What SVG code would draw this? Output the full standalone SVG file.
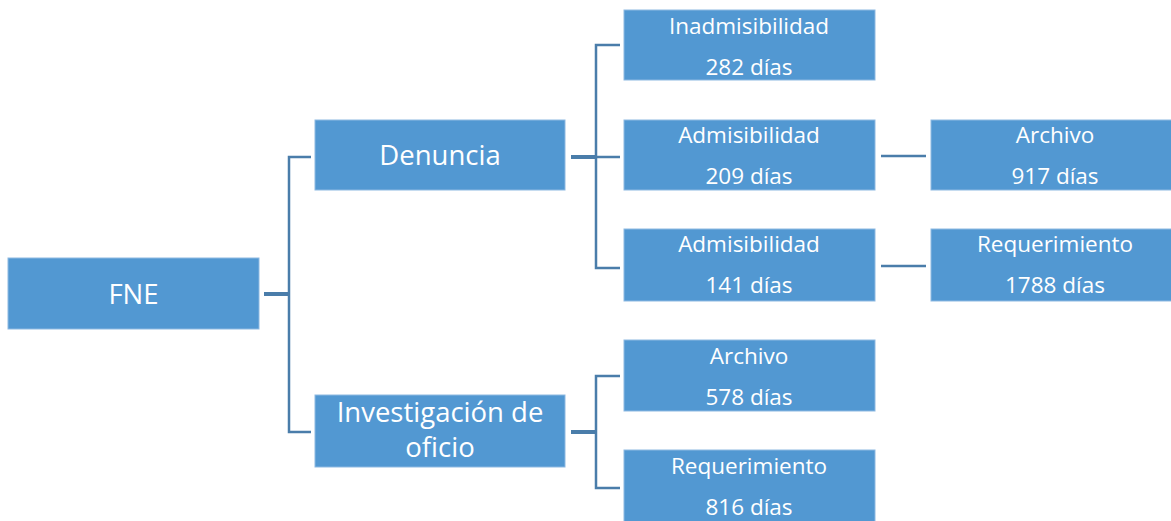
<svg xmlns="http://www.w3.org/2000/svg" width="1171" height="521" viewBox="0 0 1171 521">
<style>
.box{fill:#5298D2;stroke:#8DB9E2;stroke-width:1}
.t{fill:#fff;font-family:"Open Sans","Noto Sans",sans-serif;text-anchor:middle}
.b{font-size:27.5px}
.s{font-size:22.5px}
.c{fill:none;stroke:#4A7DAA;stroke-width:2.5}
.k{fill:none;stroke:#4A7DAA;stroke-width:4}
</style>
<rect width="1171" height="521" fill="#fff"/>
<g id="connectors">
<line class="k" x1="264" y1="294" x2="290" y2="294"/>
<polyline class="c" points="311,157 289,157 289,432 311,432"/>
<line class="k" x1="571" y1="157" x2="597" y2="157"/>
<polyline class="c" points="620,45 596,45 596,268 620,268"/>
<line class="c" x1="596" y1="157" x2="620" y2="157"/>
<line class="k" x1="571" y1="432" x2="597" y2="432"/>
<polyline class="c" points="620,376 596,376 596,488 620,488"/>
<line class="c" x1="881" y1="156" x2="926" y2="156"/>
<line class="c" x1="881" y1="266" x2="926" y2="266"/>
</g>
<g id="fne"><rect class="box" x="8" y="258" width="251" height="71"/><text class="t b" x="133.5" y="304">FNE</text></g>
<g id="denuncia"><rect class="box" x="315" y="120" width="250" height="70"/><text class="t b" x="440" y="165">Denuncia</text></g>
<g id="investigacion"><rect class="box" x="315" y="395" width="250" height="72"/><text class="t b" x="440" y="422">Investigación de</text><text class="t b" x="440" y="457">oficio</text></g>
<g id="inadmisibilidad"><rect class="box" x="624" y="10" width="251" height="70"/><text class="t s" x="749" y="34">Inadmisibilidad</text><text class="t s" x="749" y="75">282 días</text></g>
<g id="admisibilidad1"><rect class="box" x="624" y="120" width="251" height="70"/><text class="t s" x="749" y="143">Admisibilidad</text><text class="t s" x="749" y="184">209 días</text></g>
<g id="admisibilidad2"><rect class="box" x="624" y="229" width="251" height="72"/><text class="t s" x="749" y="252">Admisibilidad</text><text class="t s" x="749" y="293">141 días</text></g>
<g id="archivo1"><rect class="box" x="931" y="120" width="241" height="70"/><text class="t s" x="1055" y="143">Archivo</text><text class="t s" x="1055" y="184">917 días</text></g>
<g id="requerimiento1"><rect class="box" x="931" y="229" width="241" height="72"/><text class="t s" x="1055" y="252">Requerimiento</text><text class="t s" x="1055" y="293">1788 días</text></g>
<g id="archivo2"><rect class="box" x="624" y="340" width="251" height="71"/><text class="t s" x="749" y="364">Archivo</text><text class="t s" x="749" y="405">578 días</text></g>
<g id="requerimiento2"><rect class="box" x="624" y="450" width="251" height="72"/><text class="t s" x="749" y="474">Requerimiento</text><text class="t s" x="749" y="515">816 días</text></g>
</svg>
